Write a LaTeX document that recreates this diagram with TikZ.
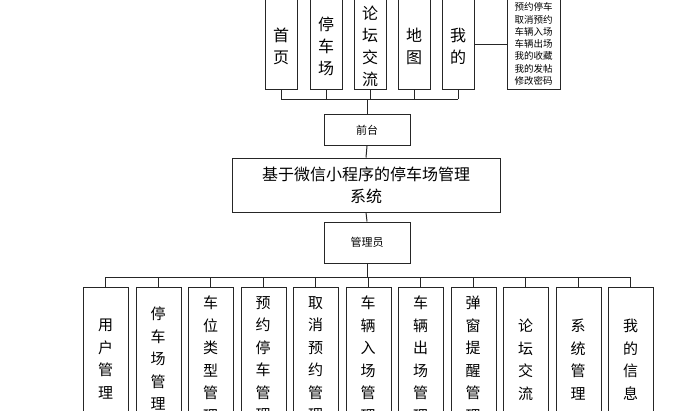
\documentclass[tikz,border=0pt]{standalone}
\usepackage{fontspec}
\newfontfamily\cjk{Noto Sans CJK SC}
\begin{document}
\begin{tikzpicture}[x=1pt,y=-1pt,
  bx/.style={draw=black!85,line width=1pt,fill=white},
  ln/.style={draw=black!85,line width=1pt},
  vt/.style={font=\cjk\fontsize{15}{22.5}\selectfont,align=center,inner sep=0pt},
  tt/.style={font=\cjk\fontsize{16}{22}\selectfont,align=center,inner sep=0pt},
  st/.style={font=\cjk\fontsize{9.5}{12.3}\selectfont,align=center,inner sep=0pt}]
\useasboundingbox (0,0) rectangle (695,410);
\clip (0,0) rectangle (695,410);
% top
\foreach \x/\t/\n in {265/{首\\页}/a,310/{停\\车\\场}/b,354/{论\\坛\\交\\流}/c,398/{地\\图}/d,442/{我\\的}/e}{
  \draw[ln] (\x+16,90) -- (\x+16,99);
  \node[bx,minimum width=32pt,minimum height=102pt,anchor=south west,inner sep=0pt] (t\n) at (\x,90) {};
  \node[tt] at (\x+16,46) {\t};
}
\draw[ln] (281,99) -- (458,99);
\node[bx,anchor=south west,minimum width=53pt,minimum height=102pt,inner sep=0pt] (r) at (507,90) {};
\node[st] at (533.5,44) {预约停车\\取消预约\\车辆入场\\车辆出场\\我的收藏\\我的发帖\\修改密码};
\draw[ln] (te.east|-0,44) -- (r.west|-0,44);
% middle
\node[bx,minimum width=86pt,minimum height=31pt,inner sep=0pt,font=\cjk\fontsize{11}{13}\selectfont] (q) at (367,130) {前台};
\draw[ln] (367,99) -- (q.north);
\node[bx,minimum width=268pt,minimum height=54pt,inner sep=0pt,align=center,font=\cjk\fontsize{16}{22}\selectfont] (m) at (366,185) {基于微信小程序的停车场管理\\系统};
\draw[ln] (q.south) -- (m.north);
\node[bx,minimum width=86pt,minimum height=41pt,inner sep=0pt,font=\cjk\fontsize{11}{13}\selectfont] (g) at (367,242.5) {管理员};
\draw[ln] (m.south) -- (g.north);
\draw[ln] (g.south) -- (367,277);
\draw[ln] (105,277) -- (630,277);
% bottom
\foreach \i/\t/\y in {0/{用\\户\\管\\理}/319,1/{停\\车\\场\\管\\理}/307,2/{车\\位\\类\\型\\管\\理}/296,3/{预\\约\\停\\车\\管\\理}/296,4/{取\\消\\预\\约\\管\\理}/296,5/{车\\辆\\入\\场\\管\\理}/296,6/{车\\辆\\出\\场\\管\\理}/296,7/{弹\\窗\\提\\醒\\管\\理}/296,8/{论\\坛\\交\\流}/319,9/{系\\统\\管\\理}/319,10/{我\\的\\信\\息}/319}{
  \pgfmathsetmacro{\xx}{83+52.5*\i}
  \draw[ln] (\xx+22.5,277) -- (\xx+22.5,287);
  \node[bx,anchor=north west,minimum width=45pt,minimum height=140pt,inner sep=0pt] (b\i) at (\xx,287) {};
  \node[vt,anchor=north] at (\xx+22.5,\y) {\t};
}
\end{tikzpicture}
\end{document}
